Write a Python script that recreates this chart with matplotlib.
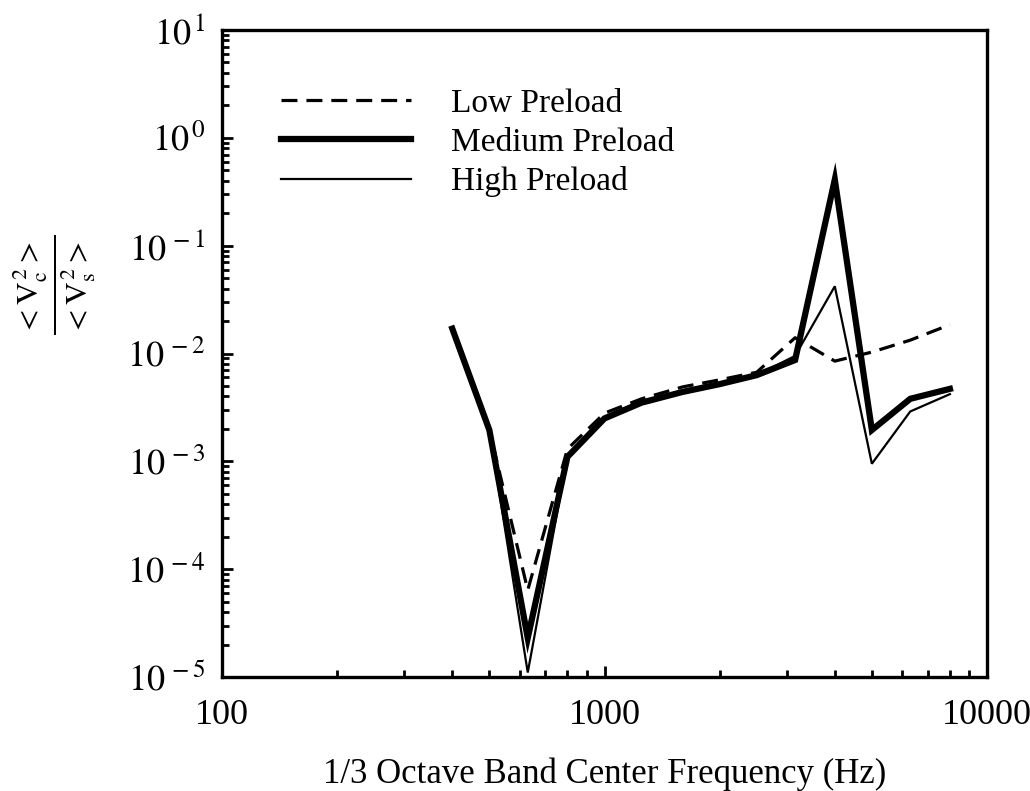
import matplotlib
matplotlib.use("Agg")
import matplotlib.pyplot as plt
from matplotlib.ticker import LogLocator, FixedLocator, NullFormatter, FixedFormatter

plt.rcParams['font.family'] = ['Liberation Serif', 'DejaVu Serif']
plt.rcParams['mathtext.fontset'] = 'stix'

freq = [400, 500, 630, 800, 1000, 1250, 1600, 2000, 2500, 3150, 4000, 5000, 6300, 8000]
low_preload = [1.7e-2, 1.95e-3, 6.4e-5, 1.3e-3, 2.8e-3, 3.8e-3, 4.9e-3, 5.7e-3, 6.7e-3, 1.4e-2, 8.5e-3, 1.03e-2, 1.33e-2, 1.85e-2]
medium_preload = [1.7e-2, 1.95e-3, 2.3e-5, 1.1e-3, 2.5e-3, 3.5e-3, 4.4e-3, 5.2e-3, 6.3e-3, 8.7e-3, 0.41, 1.95e-3, 3.8e-3, 4.7e-3]
high_preload = [1.7e-2, 1.95e-3, 1.1e-5, 1.1e-3, 2.5e-3, 3.5e-3, 4.4e-3, 5.2e-3, 6.3e-3, 9.5e-3, 4.2e-2, 9.5e-4, 2.9e-3, 4.2e-3]

x_ticks = [100, 1000, 10000]
x_tick_labels = ['100', '1000', '10000']
y_ticks = [1e-5, 1e-4, 1e-3, 1e-2, 1e-1, 1e0, 1e1]
y_tick_labels = [r'$10^{\,-5}$', r'$10^{\,-4}$', r'$10^{\,-3}$', r'$10^{\,-2}$',
                 r'$10^{\,-1}$', r'$10^{\,0}$', r'$10^{\,1}$']
series_names = ['Low Preload', 'Medium Preload', 'High Preload']

fig = plt.figure(figsize=(10.30, 7.91), dpi=100)
ax = fig.add_axes([222/1030, 1 - 677/791, (987 - 222)/1030, (677 - 30)/791])

ax.plot(freq, low_preload, color='black', lw=2.3, linestyle=(0, (5, 2.8)), label=series_names[0])
ax.plot(freq, medium_preload, color='black', lw=4.5, solid_joinstyle='miter', label=series_names[1])
ax.plot(freq, high_preload, color='black', lw=1.6, solid_joinstyle='miter', label=series_names[2])

ax.set_xscale('log')
ax.set_yscale('log')
ax.set_xlim(100, 10000)
ax.set_ylim(1e-5, 1e1)

ax.xaxis.set_major_locator(FixedLocator(x_ticks))
ax.xaxis.set_major_formatter(FixedFormatter(x_tick_labels))
ax.xaxis.set_minor_locator(LogLocator(base=10, subs=range(2, 10)))
ax.xaxis.set_minor_formatter(NullFormatter())
ax.yaxis.set_major_locator(FixedLocator(y_ticks))
ax.yaxis.set_major_formatter(FixedFormatter(y_tick_labels))
ax.yaxis.set_minor_locator(LogLocator(base=10, subs=range(2, 10)))
ax.yaxis.set_minor_formatter(NullFormatter())

ax.tick_params(which='both', direction='in', top=False, right=False, width=2)
ax.tick_params(which='major', length=8, labelsize=26, pad=12)
ax.tick_params(which='minor', length=5)
ax.tick_params(axis='x', which='major', pad=16)
for s in ax.spines.values():
    s.set_linewidth(2.4)

ax.set_xlabel('1/3 Octave Band Center Frequency (Hz)', fontsize=25, labelpad=18)

fig.text(55/1030, 1 - 285/791,
         r'$\frac{<\mathrm{V}_\mathrm{c}^{\,2}>}{<\mathrm{V}_\mathrm{s}^{\,2}>}$',
         rotation=90, fontsize=32, ha='center', va='center')

leg = ax.legend(loc='upper left', bbox_to_anchor=(0.06, 0.93), frameon=False,
                fontsize=24, handlelength=3.9, handletextpad=1.2, labelspacing=0.25,
                borderaxespad=0)

fig.savefig('out.png', dpi=100, facecolor='white')
